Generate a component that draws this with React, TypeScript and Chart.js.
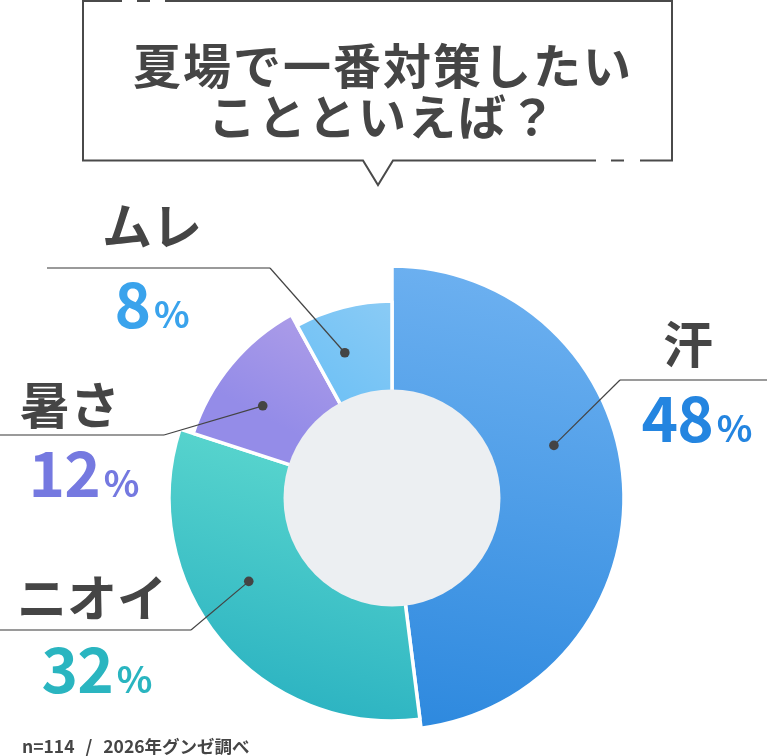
import React, { useEffect, useRef } from 'react';
import { Chart, registerables } from 'chart.js';

Chart.register(...registerables);

// ---- data ----
const categories: string[] = ['汗', 'ニオイ', '暑さ', 'ムレ'];
const values: number[] = [48, 32, 12, 8];
const titleLines: string[] = ['夏場で一番対策したい', 'ことといえば？'];
const footnote = 'n=114 / 2026年グンゼ調べ';

// ---- styles ----
const FONT = "'Noto Sans CJK JP', 'Noto Sans', sans-serif";
const TEXT_COLOR = '#454545';
const radiusScale = [1, 0.961, 0.901, 0.849];
const gradTop = ['#6cb0f0', '#62dcd0', '#b9a5e8', '#90cdf5'];
const gradBottom = ['#2c88de', '#2db4c2', '#948ce8', '#72c2f5'];
const valueColors = ['#2485e0', '#2ab5c0', '#7579e0', '#3aa3ec'];
const HOLE_R = 108.5;
const labelLayout = [
  { cx: 688, nameTop: 316, valueCx: 697, valueTop: 384, elbowX: 620, elbowY: 380, lineEnd: 767, angleOffset: -14.4 },
  { cx: 92, nameTop: 570, valueCx: 97, valueTop: 635, elbowX: 191, elbowY: 630, lineEnd: 0, angleOffset: 9.4 },
  { cx: 70, nameTop: 377, valueCx: 84, valueTop: 439, elbowX: 164, elbowY: 435, lineEnd: 0, angleOffset: -4.1 },
  { cx: 152, nameTop: 198, valueCx: 152, valueTop: 270, elbowX: 270, elbowY: 268, lineEnd: 47, angleOffset: -3.6 },
];

const shapePlugin = {
  id: 'shapePlugin',
  afterDatasetsUpdate(chart: any) {
    const meta = chart.getDatasetMeta(0);
    const area = chart.chartArea;
    const R = Math.min(area.right - area.left, area.bottom - area.top) / 2;
    meta.data.forEach((el: any, i: number) => {
      el.outerRadius = R * radiusScale[i];
      el.innerRadius = HOLE_R - 3;
      const { x, y, startAngle, endAngle } = el;
      let ymin = Infinity;
      let ymax = -Infinity;
      for (let k = 0; k <= 60; k++) {
        const a = startAngle + ((endAngle - startAngle) * k) / 60;
        for (const r of [HOLE_R, el.outerRadius]) {
          const yy = y + r * Math.sin(a);
          if (yy < ymin) ymin = yy;
          if (yy > ymax) ymax = yy;
        }
      }
      const g = chart.ctx.createLinearGradient(x + 40, ymin, x - 40, ymax);
      g.addColorStop(0, gradTop[i]);
      g.addColorStop(1, gradBottom[i]);
      el.options = { ...el.options, backgroundColor: g };
    });
  },
  afterDatasetsDraw(chart: any) {
    const ctx = chart.ctx;
    const meta = chart.getDatasetMeta(0);
    const el0 = meta.data[0];
    ctx.save();
    // hole
    ctx.beginPath();
    ctx.arc(el0.x, el0.y, HOLE_R, 0, Math.PI * 2);
    ctx.fillStyle = '#eceff2';
    ctx.fill();
    // leader lines
    meta.data.forEach((el: any, i: number) => {
      const L = labelLayout[i];
      const mid = (el.startAngle + el.endAngle) / 2 + (L.angleOffset * Math.PI) / 180;
      const r = (HOLE_R + el.outerRadius) / 2;
      const dx = el.x + r * Math.cos(mid);
      const dy = el.y + r * Math.sin(mid);
      ctx.beginPath();
      ctx.moveTo(L.elbowX, L.elbowY);
      ctx.lineTo(L.lineEnd, L.elbowY);
      ctx.strokeStyle = '#9a9a9a';
      ctx.lineWidth = 2;
      ctx.stroke();
      ctx.beginPath();
      ctx.moveTo(dx, dy);
      ctx.lineTo(L.elbowX, L.elbowY);
      ctx.strokeStyle = '#444';
      ctx.lineWidth = 1.2;
      ctx.stroke();
      ctx.beginPath();
      ctx.arc(dx, dy, 4.8, 0, Math.PI * 2);
      ctx.fillStyle = '#444';
      ctx.fill();
    });
    // title box
    ctx.strokeStyle = '#4a4a4a';
    ctx.lineWidth = 2;
    ctx.lineJoin = 'miter';
    ctx.beginPath();
    ctx.moveTo(122, 1);
    ctx.lineTo(83, 1);
    ctx.lineTo(83, 160.5);
    ctx.lineTo(363, 160.5);
    ctx.lineTo(378, 185);
    ctx.lineTo(393, 160.5);
    ctx.lineTo(596, 160.5);
    ctx.moveTo(611, 160.5);
    ctx.lineTo(624, 160.5);
    ctx.moveTo(640, 160.5);
    ctx.lineTo(672, 160.5);
    ctx.lineTo(672, 1);
    ctx.lineTo(165, 1);
    ctx.moveTo(137, 1);
    ctx.lineTo(150, 1);
    ctx.stroke();
    ctx.restore();
  },
};

export default function App() {
  const ref = useRef<HTMLCanvasElement>(null);
  useEffect(() => {
    if (!ref.current) return;
    const chart = new Chart(ref.current, {
      type: 'doughnut',
      data: {
        labels: categories,
        datasets: [
          {
            data: values,
            backgroundColor: gradBottom,
            borderColor: '#ffffff',
            borderWidth: 3.5,
          },
        ],
      },
      options: {
        responsive: false,
        animation: false,
        events: [],
        cutout: 100,
        layout: { padding: { left: 160, top: 266, right: 143, bottom: 26 } },
        plugins: { legend: { display: false }, tooltip: { enabled: false } },
      },
      plugins: [shapePlugin],
    });
    return () => chart.destroy();
  }, []);

  const base: React.CSSProperties = {
    position: 'absolute',
    fontFamily: FONT,
    fontWeight: 700,
    color: TEXT_COLOR,
    lineHeight: 1,
    whiteSpace: 'pre',
    textAlign: 'center',
    width: 300,
  };

  return (
    <div style={{ position: 'absolute', left: 0, top: 0, width: 767, height: 756, background: '#fff', overflow: 'hidden' }}>
      <canvas ref={ref} width={767} height={756} style={{ position: 'absolute', left: 0, top: 0, width: 767, height: 756 }} />
      {titleLines.map((t, i) => (
        <div key={'t' + i} style={{ ...base, left: 383 - 300, width: 600, top: 39 + i * 51, fontSize: 48, letterSpacing: 2 }}>
          {t}
        </div>
      ))}
      {categories.map((c, i) => {
        const L = labelLayout[i];
        return (
          <React.Fragment key={c}>
            <div style={{ ...base, left: L.cx - 150, top: L.nameTop, fontSize: 50 }}>{c}</div>
            <div style={{ ...base, left: L.valueCx - 150, top: L.valueTop, fontSize: 62, letterSpacing: -1, color: valueColors[i] }}>
              {values[i]}
              <span style={{ fontSize: 37, marginLeft: 4, letterSpacing: 0 }}>%</span>
            </div>
          </React.Fragment>
        );
      })}
      <div style={{ ...base, left: 22, top: 737, fontSize: 17.5, textAlign: 'left', width: 400, wordSpacing: 7 }}>{footnote}</div>
    </div>
  );
}
